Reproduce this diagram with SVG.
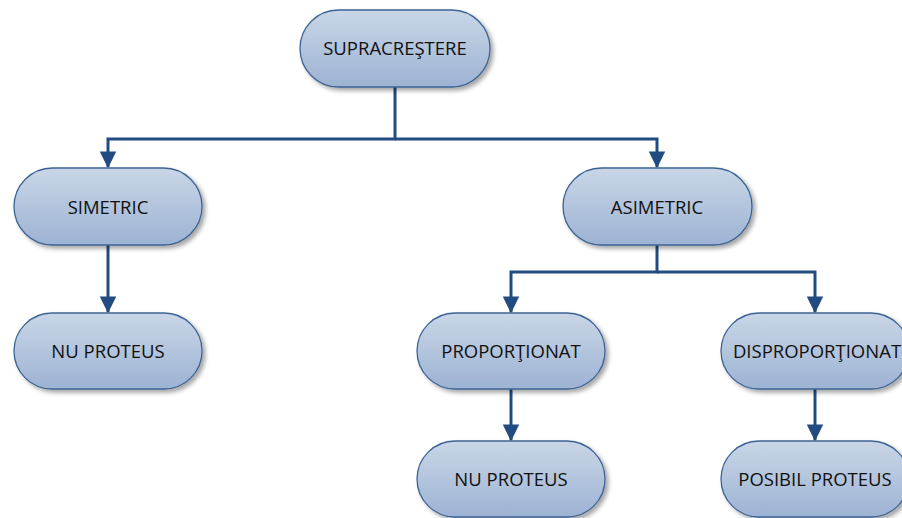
<svg xmlns="http://www.w3.org/2000/svg" width="902" height="518" viewBox="0 0 902 518">
<style>
.box{fill:url(#g);stroke:#3C6494;stroke-width:1.3;filter:url(#sh)}
.lbl{font-family:"Open Sans","Noto Sans",sans-serif;font-size:18.5px;fill:#111;text-anchor:middle;dominant-baseline:central}
.con{fill:none;stroke:#224C80;stroke-width:3}
</style>
<defs>
<linearGradient id="g" x1="0" y1="0" x2="0" y2="1">
<stop offset="0" stop-color="#C9D6E7"/>
<stop offset="1" stop-color="#9DB3D3"/>
</linearGradient>
<filter id="sh" x="-10%" y="-10%" width="130%" height="140%">
<feDropShadow dx="3" dy="3" stdDeviation="2" flood-color="#000" flood-opacity="0.35"/>
</filter>
<marker id="arr" markerWidth="6" markerHeight="6" refX="5.2" refY="2.75" orient="auto" markerUnits="strokeWidth">
<path d="M0,0 L5.6,2.75 L0,5.5 z" fill="#224C80"/>
</marker>
</defs>
<rect width="902" height="518" fill="#fff"/>
<g id="connectors">
<path class="con" d="M395,87 V139 H108 V167" marker-end="url(#arr)"/>
<path class="con" d="M395,139 H657 V167" marker-end="url(#arr)"/>
<path class="con" d="M108,245 V312" marker-end="url(#arr)"/>
<path class="con" d="M657,245 V272 H511 V312" marker-end="url(#arr)"/>
<path class="con" d="M657,272 H815 V312" marker-end="url(#arr)"/>
<path class="con" d="M511,389 V440" marker-end="url(#arr)"/>
<path class="con" d="M815,389 V440" marker-end="url(#arr)"/>
</g>
<g id="n_supracrestere">
<rect class="box" x="300" y="10" width="190" height="77" rx="38.5"/>
<text class="lbl" x="395" y="47">SUPRACREŞTERE</text>
</g>
<g id="n_simetric">
<rect class="box" x="14" y="168" width="188" height="77" rx="38.5"/>
<text class="lbl" x="108" y="206">SIMETRIC</text>
</g>
<g id="n_asimetric">
<rect class="box" x="563" y="168" width="189" height="77" rx="38.5"/>
<text class="lbl" x="657" y="206">ASIMETRIC</text>
</g>
<g id="n_nuproteus1">
<rect class="box" x="14" y="313" width="188" height="76" rx="38"/>
<text class="lbl" x="108" y="350">NU PROTEUS</text>
</g>
<g id="n_proportionat">
<rect class="box" x="417" y="313" width="188" height="76" rx="38"/>
<text class="lbl" x="511" y="350">PROPORŢIONAT</text>
</g>
<g id="n_disproportionat">
<rect class="box" x="721" y="313" width="188" height="76" rx="38"/>
<text class="lbl" x="817" y="350">DISPROPORŢIONAT</text>
</g>
<g id="n_nuproteus2">
<rect class="box" x="417" y="441" width="188" height="76" rx="38"/>
<text class="lbl" x="511" y="478">NU PROTEUS</text>
</g>
<g id="n_posibil">
<rect class="box" x="721" y="441" width="188" height="76" rx="38"/>
<text class="lbl" x="815" y="478">POSIBIL PROTEUS</text>
</g>
</svg>
